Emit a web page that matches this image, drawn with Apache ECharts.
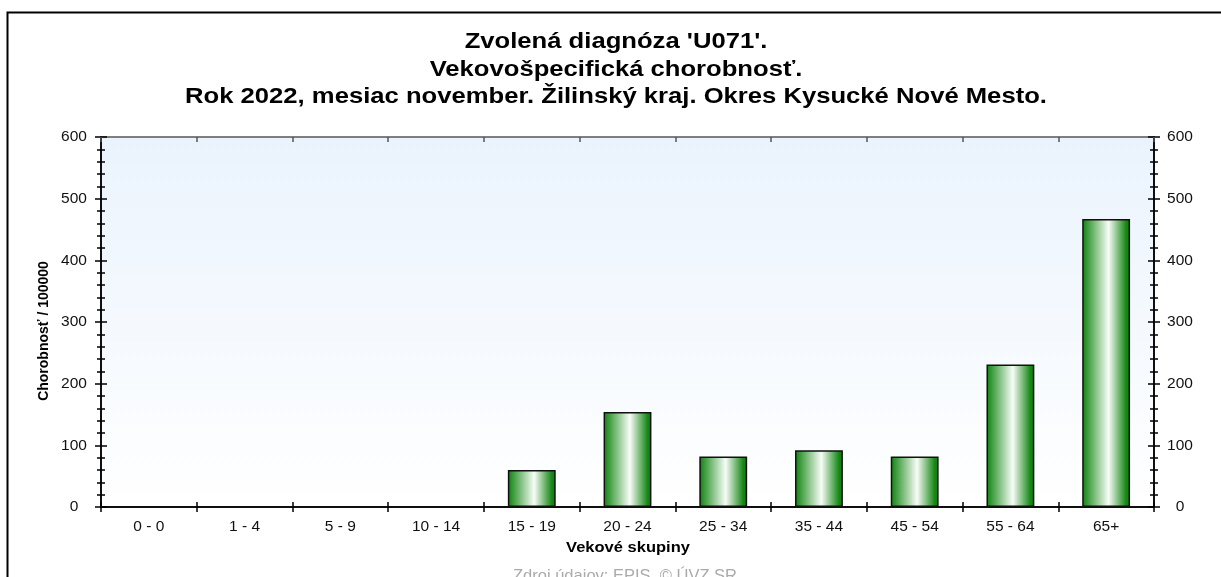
<!DOCTYPE html>
<html>
<head>
<meta charset="utf-8">
<script src="https://cdn.jsdelivr.net/npm/echarts@6/dist/echarts.min.js"></script>
<style>
html, body { margin: 0; padding: 0; background: #fff; }
#chart { width: 1221px; height: 577px; }
</style>
</head>
<body>
<div id="chart"></div>
<script>
// vekove skupiny a chorobnost na 100000
const categories = ['0 - 0', '1 - 4', '5 - 9', '10 - 14', '15 - 19', '20 - 24', '25 - 34', '35 - 44', '45 - 54', '55 - 64', '65+'];
const rates = [0, 0, 0, 0, 60, 154, 82, 92, 82, 231, 467];
const titleLines = [
    "Zvolená diagnóza 'U071'.",
    "Vekovošpecifická chorobnosť.",
    "Rok 2022, mesiac november. Žilinský kraj. Okres Kysucké Nové Mesto."
];

const font = '"Liberation Sans", Arial, sans-serif';

function yAxisCfg(pos, inside, showLabel) {
    return {
        type: 'value',
        position: pos,
        min: 0,
        max: 600,
        interval: 100,
        axisLine: { show: true, lineStyle: { color: '#000', width: 1.5 } },
        axisTick: { show: true, inside: inside, length: 6, lineStyle: { color: '#000', width: 1.5 } },
        minorTick: { show: true, splitNumber: 5, length: 4, lineStyle: { color: '#000', width: 1.5 } },
        splitLine: { show: false },
        axisLabel: {
            show: showLabel, color: '#111', fontFamily: font, fontSize: 15.5,
            align: 'center', margin: pos === 'left' ? 27 : 26
        }
    };
}

function xAxisCfg(pos, inside, showLabel, lineColor) {
    return {
        type: 'category',
        position: pos,
        data: categories,
        axisLine: { show: true, onZero: false, lineStyle: { color: lineColor, width: 1.5 } },
        axisTick: { show: true, inside: inside, length: 5, lineStyle: { color: lineColor, width: 1.5 } },
        axisLabel: { show: showLabel, color: '#111', fontFamily: font, fontSize: 15.5, margin: 12 }
    };
}

// nulove hodnoty bez okraja
const barData = rates.map(v => ({ value: v, itemStyle: { borderWidth: v === 0 ? 0 : 1.5 } }));

const chart = echarts.init(document.getElementById('chart'), null, { renderer: 'canvas' });

chart.setOption({
    animation: false,
    grid: {
        left: 101, right: 67, top: 137, bottom: 70,
        show: true,
        borderWidth: 0,
        backgroundColor: new echarts.graphic.LinearGradient(0, 0, 0, 1, [
            { offset: 0, color: '#eaf3fd' },
            { offset: 1, color: '#ffffff' }
        ])
    },
    xAxis: [
        xAxisCfg('bottom', false, true, '#000'),
        xAxisCfg('bottom', true, false, '#000'),
        xAxisCfg('top', true, false, '#555')
    ],
    yAxis: [
        yAxisCfg('left', false, true),
        yAxisCfg('left', true, false),
        yAxisCfg('right', false, true),
        yAxisCfg('right', true, false)
    ],
    series: [{
        type: 'bar',
        data: barData,
        barWidth: '50%',
        itemStyle: {
            borderColor: '#111',
            borderWidth: 1.5,
            color: new echarts.graphic.LinearGradient(0, 0, 1, 0, [
                { offset: 0, color: '#0c820c' },
                { offset: 0.55, color: '#f8fcf8' },
                { offset: 0.92, color: '#168716' },
                { offset: 1, color: '#0e7c0e' }
            ])
        }
    }],
    graphic: [
        {
            type: 'polyline',
            shape: { points: [[7.5, 577], [7.5, 12.5], [1221, 12.5]] },
            style: { stroke: '#000', lineWidth: 2, fill: null }
        },
        ...titleLines.map((t, i) => ({
            type: 'text',
            x: 616,
            y: 42 + i * 27.5,
            scaleX: 1.165,
            style: {
                text: t,
                fill: '#000',
                font: 'bold 22px ' + font,
                textAlign: 'center',
                textVerticalAlign: 'middle'
            }
        })),
        {
            type: 'text',
            x: 44,
            y: 331,
            rotation: Math.PI / 2,
            style: {
                text: 'Chorobnosť / 100000',
                fill: '#000',
                font: 'bold 14px ' + font,
                textAlign: 'center',
                textVerticalAlign: 'middle'
            }
        },
        {
            type: 'text',
            x: 628,
            y: 548,
            scaleX: 1.1,
            style: {
                text: 'Vekové skupiny',
                fill: '#000',
                font: 'bold 15px ' + font,
                textAlign: 'center',
                textVerticalAlign: 'middle'
            }
        },
        {
            type: 'text',
            x: 625,
            y: 576,
            style: {
                text: 'Zdroj údajov: EPIS, © ÚVZ SR',
                fill: '#aaaaaa',
                font: '16.5px ' + font,
                textAlign: 'center',
                textVerticalAlign: 'middle'
            }
        }
    ]
});
</script>
</body>
</html>
